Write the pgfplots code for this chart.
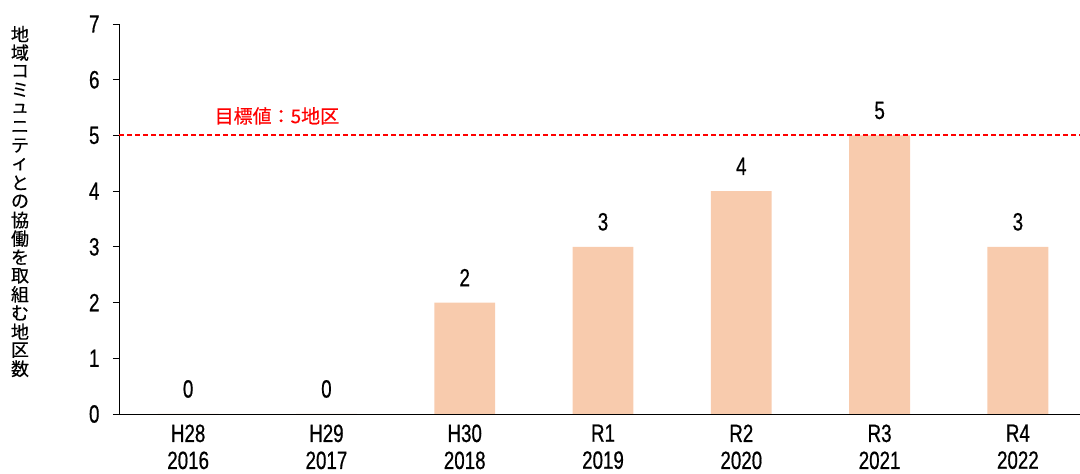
\documentclass[border=0pt]{standalone}
\usepackage{fontspec}
\setmainfont{Liberation Sans}[FakeStretch=0.75, FakeBold=0.6]
\newfontfamily\cjk{Noto Sans CJK JP}[FakeBold=0.4]
\usepackage{pgfplots}
\pgfplotsset{compat=1.18}
\definecolor{barc}{HTML}{F8CBAD}
\begin{document}
\begin{tikzpicture}
\begin{axis}[
  scale only axis, width=961pt, height=390pt,
  xmin=-0.5, xmax=6.449, ymin=0, ymax=7,
  axis x line=bottom, axis y line=left,
  axis line style={-, line width=0.9pt, black},
  every tick/.style={black, line width=0.9pt},
  tick align=outside,
  ytick={0,...,7},
  major tick length=6pt,
  xtick={0,...,6},
  xtick style={draw=none},
  minor xtick={-0.5,0.5,...,5.5},
  minor x tick style={black, line width=0.9pt},
  minor tick length=7pt,
  xticklabels={{H28\\2016},{H29\\2017},{H30\\2018},{R1\\2019},{R2\\2020},{R3\\2021},{R4\\2022}},
  xticklabel style={align=center, font=\fontsize{25}{27}\selectfont, yshift=-1pt},
  yticklabel style={font=\fontsize{25}{26}\selectfont, xshift=-10pt},
  /pgf/number format/assume math mode=true,
  ybar, bar width=0.44,
  nodes near coords,
  every node near coord/.append style={font=\fontsize{25}{26}\selectfont, anchor=south, inner sep=0pt, yshift=16pt, black},
  clip=false,
]
\addplot[fill=barc, draw=none] coordinates {(0,0) (1,0) (2,2) (3,3) (4,4) (5,5) (6,3)};
\end{axis}
\begin{axis}[
  scale only axis, width=961pt, height=390pt,
  xmin=-0.5, xmax=6.449, ymin=0, ymax=7,
  hide axis, clip=false,
]
\addplot[red, solid, line width=2pt, mark=none, dash pattern=on 5pt off 3pt] coordinates {(-0.5,5) (6.449,5)};
\node[anchor=base west, inner sep=0pt, text=red, font=\fontsize{19}{22}\selectfont] at (axis cs:0.19,5.22) {\cjk 目標値：5地区};
\draw[black, line width=0.9pt] (axis cs:-0.5,0) -- ++(-6pt,0);
\end{axis}
\foreach \c [count=\i from 0] in {地,域,コ,ミ,ュ,ニ,テ,ィ,と,の,協,働,を,取,組,む,地,区,数}
  \node[inner sep=0pt, font=\fontsize{18}{18.6}\selectfont\cjk] at (-99pt,{380pt-18.6pt*\i}) {\c};
\pgfresetboundingbox
\path (-119pt,-60pt) rectangle (961pt,414pt);
\end{tikzpicture}
\end{document}
